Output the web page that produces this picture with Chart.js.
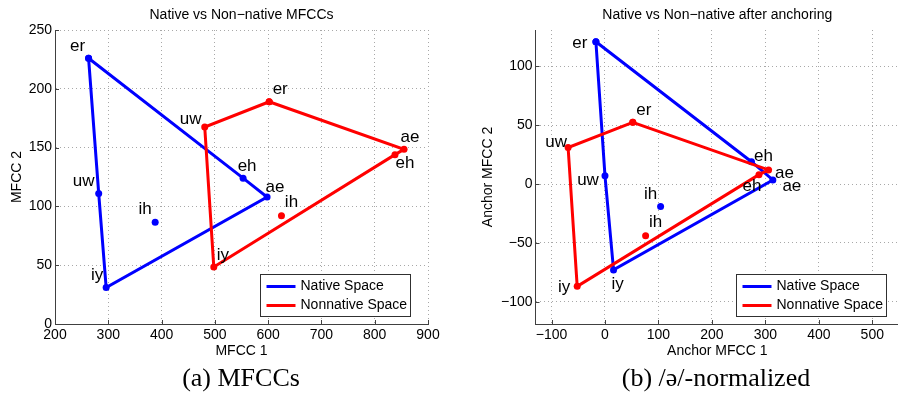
<!DOCTYPE html>
<html>
<head>
<meta charset="utf-8">
<script src="https://cdn.jsdelivr.net/npm/chart.js@4.4.1/dist/chart.umd.min.js"></script>
<style>
  html, body { margin: 0; padding: 0; background: #fff; overflow: hidden; }
  #wrap { position: relative; width: 898px; height: 404px; overflow: hidden; }
  canvas { position: absolute; top: 0; }
  #mfcc { left: 0; }
  #anchor { left: 450px; }
  .caption {
    position: absolute; top: 365px;
    font-family: 'Liberation Serif', 'Times New Roman', serif;
    font-size: 26px; line-height: 26px; white-space: nowrap;
    transform: translateX(-50%); color: #000;
  }
</style>
</head>
<body>
<div id="wrap">
  <canvas id="mfcc" width="450" height="365"></canvas>
  <canvas id="anchor" width="470" height="365"></canvas>
  <div class="caption" style="left:241px">(a) MFCCs</div>
  <div class="caption" style="left:716px">(b) /ə/-normalized</div>
</div>
<script>
const vowels = ['er', 'uw', 'iy', 'ae', 'eh', 'ih'];
const seriesNames = ['Native Space', 'Nonnative Space'];
// outline order for each speaker group; ih sits inside as a lone dot
const nativeOutline = ['er', 'eh', 'ae', 'iy', 'uw', 'er'];
const nonnativeOutline = ['er', 'ae', 'eh', 'iy', 'uw', 'er'];

// raw MFCC means (same order as vowels)
const mfccNativeX = [263, 282, 296, 598, 553, 388];
const mfccNativeY = [226, 111, 31, 108, 124, 86.5];
const mfccNonnativeX = [602, 481, 498, 855, 838, 625];
const mfccNonnativeY = [189, 167.5, 48.5, 148.5, 144, 92];

// same vowels after anchoring on schwa
const anchorNativeX = [-17, 0, 16, 314, 274, 104];
const anchorNativeY = [121, 7, -73, 3.5, 19, -19];
const anchorNonnativeX = [52, -69, -52, 306, 288, 76];
const anchorNonnativeY = [52.5, 31, -87, 12, 8, -44];

const mfccXTicks = [200, 300, 400, 500, 600, 700, 800, 900];
const mfccYTicks = [0, 50, 100, 150, 200, 250];
const anchorXTicks = [-100, 0, 100, 200, 300, 400, 500];
const anchorYTicks = [-100, -50, 0, 50, 100];

const BLUE = '#0000ff';
const RED = '#ff0000';
const FONT = "'Liberation Sans', Arial, Helvetica, sans-serif";
const colors = [BLUE, RED];

function pts(xs, ys, names) {
  return names.map(n => {
    const i = vowels.indexOf(n);
    return { x: xs[i], y: ys[i], v: n };
  });
}

function makeDatasets(nx, ny, px, py) {
  const base = { borderWidth: 3, pointRadius: 3.5, pointHoverRadius: 3.5, pointBorderWidth: 0 };
  return [
    { ...base, label: seriesNames[0], series: 0, order: 2, showLine: true,
      data: pts(nx, ny, nativeOutline), borderColor: BLUE, backgroundColor: BLUE },
    { ...base, label: seriesNames[1], series: 1, order: 0, showLine: true,
      data: pts(px, py, nonnativeOutline), borderColor: RED, backgroundColor: RED },
    { ...base, label: 'ih', series: 0, order: 3, showLine: false,
      data: pts(nx, ny, ['ih']), borderColor: BLUE, backgroundColor: BLUE },
    { ...base, label: 'ih', series: 1, order: 1, showLine: false,
      data: pts(px, py, ['ih']), borderColor: RED, backgroundColor: RED }
  ];
}

function axis(min, max, ticks, title, titlePad, size, horizontal) {
  return {
    type: 'linear', min, max,
    afterBuildTicks: s => { s.ticks = ticks.map(v => ({ value: v })); },
    afterFit: s => {
      if (horizontal) { s.height = size; s.paddingLeft = 0; s.paddingRight = 0; }
      else { s.width = size; s.paddingTop = 0; s.paddingBottom = 0; }
    },
    ticks: {
      font: { family: FONT, size: 14 }, color: '#000', padding: 3,
      callback: v => String(v).replace('-', '\u2212')
    },
    grid: { color: '#a8a8a8', lineWidth: 1, drawTicks: false },
    border: { color: '#404040', width: 1, dash: [1, 3] },
    title: { display: true, text: title, color: '#000', font: { family: FONT, size: 14 }, padding: titlePad }
  };
}

// vowel names, inward tick marks and the boxed legend
const decorations = {
  id: 'decorations',
  beforeDatasetsDraw(chart) {
    const { ctx, chartArea: a, scales: { x, y } } = chart;
    ctx.save();
    ctx.strokeStyle = '#404040';
    ctx.lineWidth = 1;
    ctx.beginPath();
    x.ticks.forEach(t => {
      const px = Math.round(x.getPixelForValue(t.value)) + 0.5;
      ctx.moveTo(px, a.bottom); ctx.lineTo(px, a.bottom - 4);
    });
    y.ticks.forEach(t => {
      const py = Math.round(y.getPixelForValue(t.value)) + 0.5;
      ctx.moveTo(a.left, py); ctx.lineTo(a.left + 4, py);
    });
    ctx.stroke();
    ctx.restore();
  },
  afterDatasetsDraw(chart, args, opts) {
    const { ctx, scales: { x, y } } = chart;
    ctx.save();
    ctx.font = `17px ${FONT}`;
    ctx.fillStyle = '#000';
    ctx.textAlign = 'center';
    ctx.textBaseline = 'middle';
    chart.data.datasets.forEach(ds => {
      const offs = opts.offsets[ds.series];
      const done = new Set();
      ds.data.forEach(p => {
        if (done.has(p.v)) return;
        done.add(p.v);
        const [dx, dy] = offs[p.v];
        ctx.fillText(p.v, x.getPixelForValue(p.x) + dx, y.getPixelForValue(p.y) + dy);
      });
    });
    ctx.restore();
  },
  afterDraw(chart, args, opts) {
    const { ctx, chartArea: a } = chart;
    const w = 150, h = 42;
    const left = Math.round(a.right - opts.legendRight - w) + 0.5;
    const top = Math.round(a.bottom - 8 - h) + 0.5;
    ctx.save();
    ctx.fillStyle = '#fff';
    ctx.fillRect(left, top, w, h);
    ctx.strokeStyle = '#303030';
    ctx.lineWidth = 1;
    ctx.strokeRect(left, top, w, h);
    ctx.font = `14px ${FONT}`;
    ctx.textAlign = 'left';
    ctx.textBaseline = 'middle';
    seriesNames.forEach((name, i) => {
      const ly = top + 12 + i * 19;
      ctx.strokeStyle = colors[i];
      ctx.lineWidth = 3;
      ctx.beginPath();
      ctx.moveTo(left + 6, ly); ctx.lineTo(left + 35, ly);
      ctx.stroke();
      ctx.fillStyle = '#000';
      ctx.fillText(name, left + 40, ly);
    });
    ctx.restore();
  }
};

function makeChart(id, cfg) {
  return new Chart(document.getElementById(id), {
    type: 'scatter',
    data: { datasets: cfg.datasets },
    options: {
      responsive: false,
      animation: false,
      devicePixelRatio: 1,
      layout: { padding: { left: 0, right: cfg.padRight, top: 0, bottom: 0 } },
      scales: { x: cfg.x, y: cfg.y },
      plugins: {
        legend: { display: false },
        tooltip: { enabled: false },
        title: {
          display: true, text: cfg.title, fullSize: false, color: '#000',
          font: { family: FONT, size: 14, weight: 'normal' },
          padding: { top: 6.6, bottom: 6.6 }
        },
        decorations: { offsets: cfg.offsets, legendRight: cfg.legendRight }
      }
    },
    plugins: [decorations]
  });
}

makeChart('mfcc', {
  title: 'Native vs Non\u2212native MFCCs',
  datasets: makeDatasets(mfccNativeX, mfccNativeY, mfccNonnativeX, mfccNonnativeY),
  x: axis(200, 900, mfccXTicks, 'MFCC 1', { top: 0, bottom: 5.6 }, 41, true),
  y: axis(0, 250, mfccYTicks, 'MFCC 2', { top: 8.3, bottom: 0 }, 55, false),
  padRight: 22,
  legendRight: 18,
  offsets: [
    { er: [-11, -12], uw: [-15, -12], iy: [-9, -12], ae: [8, -10], eh: [4, -12], ih: [-10, -13] },
    { er: [11, -12], uw: [-14, -8], iy: [9, -12], ae: [6, -12], eh: [10, 9], ih: [10, -13] }
  ]
});

makeChart('anchor', {
  title: 'Native vs Non\u2212native after anchoring',
  datasets: makeDatasets(anchorNativeX, anchorNativeY, anchorNonnativeX, anchorNonnativeY),
  x: axis(-130, 550, anchorXTicks, 'Anchor MFCC 1', { top: 0, bottom: 5.6 }, 41, true),
  y: axis(-119, 131, anchorYTicks, 'Anchor MFCC 2', { top: 29.6, bottom: 0 }, 85.5, false),
  padRight: 21,
  legendRight: 13,
  offsets: [
    { er: [-16, 2], uw: [-17, 4], iy: [4, 14], ae: [19, 6], eh: [12, -5], ih: [-10, -12] },
    { er: [11, -12], uw: [-12, -5], iy: [-13, 1], ae: [16, 3], eh: [-7, 12], ih: [10, -13] }
  ]
});
</script>
</body>
</html>
